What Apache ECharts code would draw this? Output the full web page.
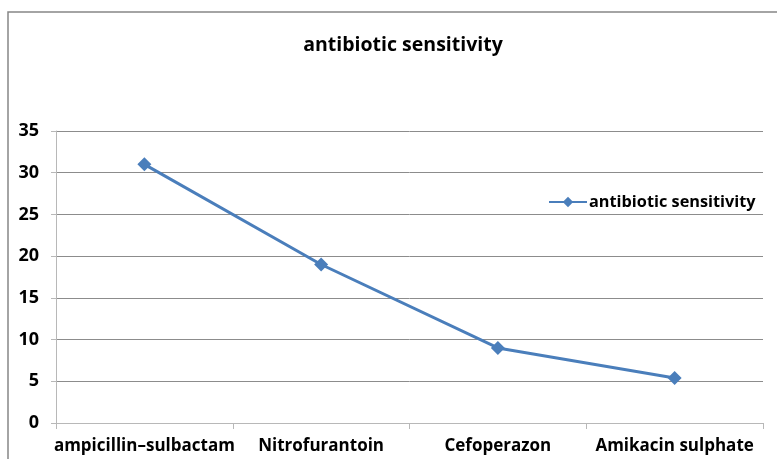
<!DOCTYPE html>
<html>
<head>
<meta charset="utf-8">
<script src="https://cdn.jsdelivr.net/npm/echarts@6/dist/echarts.min.js"></script>
<style>
  html, body { margin: 0; padding: 0; background: #fff; }
  #main { width: 777px; height: 459px; }
</style>
</head>
<body>
<div id="main"></div>
<script>
// chart data
var categories = ['ampicillin\u2013sulbactam', 'Nitrofurantoin', 'Cefoperazon', 'Amikacin sulphate'];
var sensitivity = [31, 19, 9, 5.4];
var seriesName = 'antibiotic sensitivity';

var font = '"Open Sans", "Noto Sans", sans-serif';
var blue = '#4a7ebb';

var chart = echarts.init(document.getElementById('main'), null, { renderer: 'canvas' });

var option = {
    animation: false,
    title: {
        text: 'antibiotic sensitivity',
        left: 398,
        textAlign: 'center',
        top: 30,
        textStyle: { fontFamily: font, fontSize: 19.5, fontWeight: 'bold', color: '#000' }
    },
    legend: {
        data: [seriesName],
        left: 543,
        top: 189,
        itemWidth: 38,
        itemHeight: 13,
        itemGap: 4,
        textStyle: { fontFamily: font, fontSize: 16.3, fontWeight: 'bold', color: '#000', padding: [0, 0, 0, -3] }
    },
    grid: {
        left: 56,
        right: 14,
        top: 131,
        bottom: 36,
        containLabel: false
    },
    graphic: [{
        type: 'rect',
        shape: { x: 8, y: 12, width: 800, height: 500 },
        style: { fill: 'none', stroke: '#868686', lineWidth: 1.5 },
        silent: true
    }],
    xAxis: {
        type: 'category',
        data: categories,
        boundaryGap: true,
        axisLine: { lineStyle: { color: '#b8b8b8', width: 1 } },
        axisTick: { show: true, alignWithLabel: false, length: 6, lineStyle: { color: '#b8b8b8' } },
        axisLabel: {
            interval: 0,
            margin: 15,
            fontFamily: font, fontSize: 17, fontWeight: 'bold', color: '#000'
        },
        splitLine: { show: false }
    },
    yAxis: {
        type: 'value',
        min: 0,
        max: 35,
        interval: 5,
        axisLine: { show: true, lineStyle: { color: '#b8b8b8', width: 1 } },
        axisTick: { show: true, length: 5, lineStyle: { color: '#b8b8b8' } },
        axisLabel: {
            margin: 17,
            fontFamily: font, fontSize: 18, fontWeight: 'bold', color: '#000'
        },
        splitLine: { show: true, lineStyle: { color: '#8c8c8c', width: 1 } }
    },
    series: [{
        name: seriesName,
        type: 'line',
        data: sensitivity,
        symbol: 'diamond',
        symbolSize: 14,
        lineStyle: { color: blue, width: 3 },
        itemStyle: { color: blue },
        z: 5
    }]
};

chart.setOption(option);
</script>
</body>
</html>
